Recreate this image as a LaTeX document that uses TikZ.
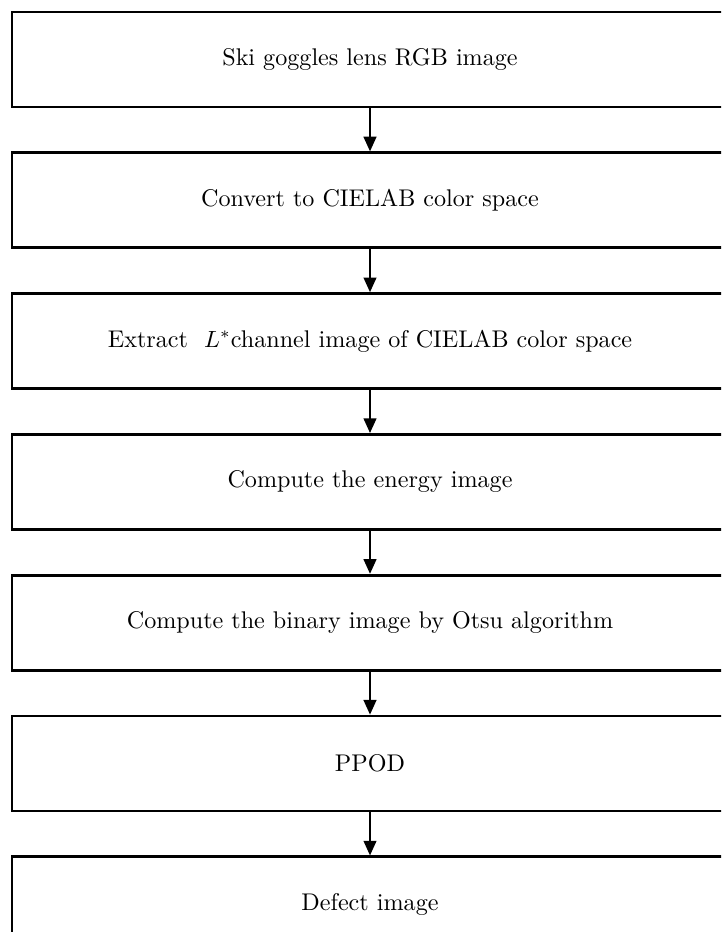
\documentclass[tikz,border=0pt]{standalone}
\usepackage{tikz}
\usetikzlibrary{arrows.meta, positioning}

\begin{document}
\begin{tikzpicture}[
  process/.style={draw, rectangle, line width=1.2pt, minimum width=10.74cm, minimum height=1.425cm, align=center, font=\fontsize{10.3}{12}\selectfont},
  arrow/.style={-{Triangle[length=2.2mm, width=1.9mm]}, line width=0.9pt}
]
  \useasboundingbox (0,0) rectangle (10.815,-13.98);
  \clip (0,0) rectangle (10.815,-13.98);

  \node (rgb) [process] at (5.55,-0.8925) {Ski goggles lens RGB image};
  \node (lab) [process, below=0.645cm of rgb] {Convert to CIELAB color space};
  \node (lstar) [process, below=0.645cm of lab] {Extract \ $L^{*}$channel image of CIELAB color space};
  \node (energy) [process, below=0.645cm of lstar] {Compute the energy image};
  \node (otsu) [process, below=0.645cm of energy] {Compute the binary image by Otsu algorithm};
  \node (ppod) [process, below=0.645cm of otsu] {PPOD};
  \node (defect) [process, below=0.645cm of ppod] {Defect image};

  \draw[arrow] (rgb) -- (lab);
  \draw[arrow] (lab) -- (lstar);
  \draw[arrow] (lstar) -- (energy);
  \draw[arrow] (energy) -- (otsu);
  \draw[arrow] (otsu) -- (ppod);
  \draw[arrow] (ppod) -- (defect);
\end{tikzpicture}
\end{document}
